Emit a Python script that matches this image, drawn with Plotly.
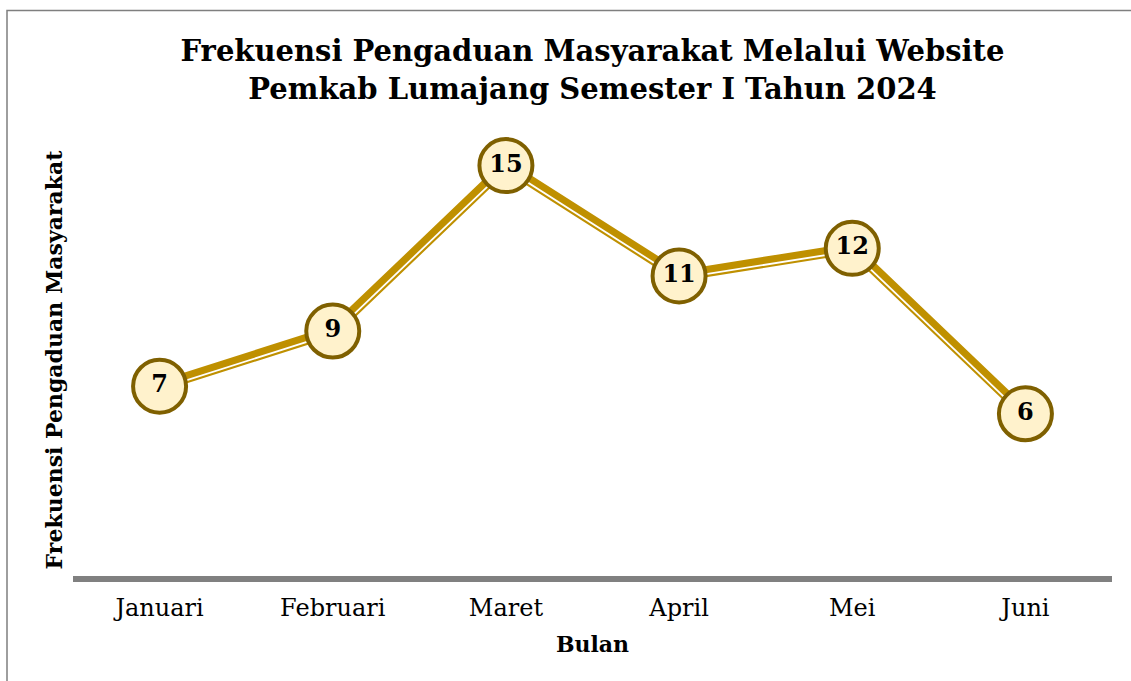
import plotly.graph_objects as go

months = ["Januari", "Februari", "Maret", "April", "Mei", "Juni"]
values = [7, 9, 15, 11, 12, 6]

title_lines = ["Frekuensi Pengaduan Masyarakat Melalui Website",
               "Pemkab Lumajang Semester I Tahun 2024"]
x_title = "Bulan"
y_title = "Frekuensi Pengaduan Masyarakat"

LINE = "#BF9000"
MK_EDGE = "#7F6000"
MK_FILL = "#FFF2CC"
FONT = "DejaVu Serif"

W, H = 1131, 681
ML, MR, MT, MB = 73, 19, 138, 99
XR = [-0.5, 5.5]
YR = [-0.1, 16]
kx = (W - ML - MR) / (XR[1] - XR[0])
ky = (H - MT - MB) / (YR[1] - YR[0])

fig = go.Figure()
xs = list(range(len(months)))

# main thick gold line
fig.add_trace(go.Scatter(x=xs, y=values, mode="lines",
                         line=dict(color=LINE, width=11), cliponaxis=False,
                         hoverinfo="skip", showlegend=False))

# white gap to produce thick-thin compound line (offset in pixel space)
OFF = 2.5
for i in range(len(xs) - 1):
    x0, y0, x1, y1 = xs[i], values[i], xs[i + 1], values[i + 1]
    dx = (x1 - x0) * kx
    dy = -(y1 - y0) * ky
    L = (dx * dx + dy * dy) ** 0.5
    nx, ny = -dy / L, dx / L
    ox = nx * OFF / kx
    oy = -ny * OFF / ky
    fig.add_trace(go.Scatter(x=[x0 + ox, x1 + ox], y=[y0 + oy, y1 + oy],
                             mode="lines", line=dict(color="white", width=1.8),
                             cliponaxis=False,
                             hoverinfo="skip", showlegend=False))

# markers with labels
fig.add_trace(go.Scatter(x=xs, y=values, mode="markers+text",
                         marker=dict(size=53, color=MK_FILL,
                                     line=dict(color=MK_EDGE, width=4)),
                         cliponaxis=False,
                         text=[str(v) for v in values],
                         textposition="middle center",
                         textfont=dict(family=FONT, size=24, color="black", weight="bold"),
                         showlegend=False))

# outer frame
fig.add_shape(type="rect", xref="paper", yref="paper",
              x0=(7 - ML) / (W - ML - MR), x1=(1140 - ML) / (W - ML - MR),
              y0=(H - MB - 700) / (H - MT - MB), y1=(H - MB - 10.5) / (H - MT - MB),
              line=dict(color="#7F7F7F", width=1.5), layer="below")

fig.update_layout(
    width=W, height=H,
    margin=dict(l=ML, r=MR, t=MT, b=MB),
    paper_bgcolor="white", plot_bgcolor="white",
    title=dict(text="<br>".join(title_lines), x=0.5, xref="paper", xanchor="center",
               y=(H - 61) / H, yanchor="middle",
               font=dict(family=FONT, size=29, color="black", weight="bold")),
    xaxis=dict(range=XR, tickmode="array", tickvals=xs, ticktext=months,
               showgrid=False, zeroline=False, showline=False,
               ticks="", tickfont=dict(family=FONT, size=24, color="black"),
               ticklabelstandoff=9,
               title=dict(text=x_title, standoff=15,
                          font=dict(family=FONT, size=22, color="black", weight="bold"))),
    yaxis=dict(range=YR, showgrid=False, showticklabels=False, ticks="",
               zeroline=True, zerolinecolor="#808080", zerolinewidth=6,
               showline=False,
               title=dict(text=y_title, standoff=3,
                          font=dict(family=FONT, size=22, color="black", weight="bold"))),
)

fig.write_html("out.html", config={"displayModeBar": False},
               post_script="document.body.style.margin='0';")
